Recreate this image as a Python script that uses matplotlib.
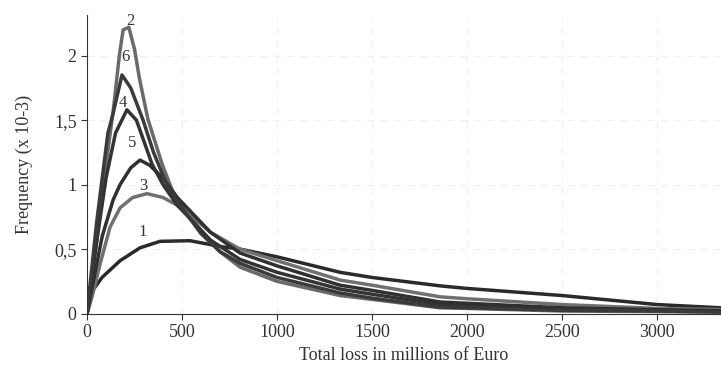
import matplotlib
matplotlib.use('Agg')
import matplotlib.pyplot as plt

# Frequency curves (x 10-3) against total loss (millions of Euro)
x1 = [0, 30, 79, 174, 279, 384, 542, 632, 700, 805, 1000, 1332, 1500, 1858, 2000, 2500, 3000, 3400]
y1 = [0, 0.18, 0.28, 0.41, 0.51, 0.56, 0.565, 0.54, 0.52, 0.50, 0.44, 0.32, 0.28, 0.215, 0.195, 0.14, 0.07, 0.04]

x2 = [0, 50, 100, 140, 170, 190, 220, 250, 275, 320, 395, 450, 520, 600, 700, 805, 1000, 1332, 1500, 1858, 2000, 2500, 3000, 3400]
y2 = [0, 0.55, 1.15, 1.6, 2.0, 2.2, 2.22, 2.05, 1.83, 1.51, 1.16, 0.95, 0.8, 0.64, 0.48, 0.36, 0.25, 0.14, 0.11, 0.045, 0.04, 0.02, 0.015, 0.01]

x3 = [0, 30, 68, 121, 174, 240, 316, 400, 475, 540, 650, 805, 1000, 1332, 1500, 1858, 2000, 2500, 3000, 3400]
y3 = [0, 0.15, 0.38, 0.67, 0.82, 0.9, 0.93, 0.9, 0.84, 0.77, 0.63, 0.50, 0.41, 0.26, 0.22, 0.13, 0.115, 0.07, 0.04, 0.03]

x4 = [0, 50, 100, 150, 210, 260, 342, 400, 475, 540, 650, 805, 1000, 1332, 1500, 1858, 2000, 2500, 3000, 3400]
y4 = [0, 0.55, 1.05, 1.4, 1.58, 1.5, 1.16, 1.0, 0.84, 0.74, 0.57, 0.42, 0.32, 0.19, 0.15, 0.07, 0.06, 0.035, 0.025, 0.015]

x5 = [0, 40, 80, 137, 174, 230, 279, 330, 400, 475, 540, 650, 805, 1000, 1332, 1500, 1858, 2000, 2500, 3000, 3400]
y5 = [0, 0.3, 0.6, 0.88, 1.0, 1.13, 1.19, 1.15, 1.05, 0.9, 0.8, 0.63, 0.47, 0.37, 0.22, 0.18, 0.09, 0.08, 0.045, 0.03, 0.02]

x6 = [0, 50, 110, 137, 184, 230, 295, 350, 420, 500, 600, 700, 805, 1000, 1332, 1500, 1858, 2000, 2500, 3000, 3400]
y6 = [0, 0.7, 1.4, 1.55, 1.85, 1.75, 1.5, 1.25, 1.0, 0.82, 0.62, 0.48, 0.39, 0.28, 0.16, 0.12, 0.05, 0.045, 0.025, 0.02, 0.01]

labels = ['1', '2', '3', '4', '5', '6']
label_x = [295, 226, 295, 190, 237, 200]
label_y = [0.63, 2.27, 0.99, 1.63, 1.32, 1.99]

plt.rcParams['font.family'] = ['Liberation Serif', 'DejaVu Serif']

fig = plt.figure(figsize=(7.21, 3.91), dpi=100)
ax = fig.add_axes([0.1207, 0.198, 0.8793, 0.7636])

curves = [(x1, y1, '#2a2a2a'), (x2, y2, '#6a6a6a'), (x3, y3, '#707070'),
          (x4, y4, '#333333'), (x5, y5, '#303030'), (x6, y6, '#3a3a3a')]
for xs, ys, c in curves:
    ax.plot(xs, ys, color=c, linewidth=2.5, solid_joinstyle='round')

for t, lx, ly in zip(labels, label_x, label_y):
    ax.text(lx, ly, t, fontsize=12, color='#333333', ha='center', va='center')

ax.set_xlim(0, 3337)
ax.set_ylim(0, 2.315)
ax.set_xticks([0, 500, 1000, 1500, 2000, 2500, 3000])
ax.set_yticks([0, 0.5, 1, 1.5, 2])
ax.set_yticklabels(['0', '0,5', '1', '1,5', '2'])
ax.tick_params(labelsize=13, colors='#333333', length=4, direction='out')

ax.grid(True, linestyle=(0, (6, 6)), color='#f0f0f0', linewidth=0.8)
ax.set_axisbelow(True)

ax.spines['top'].set_visible(False)
ax.spines['right'].set_visible(False)
ax.spines['left'].set_color('#333333')
ax.spines['bottom'].set_color('#333333')

ax.set_xlabel('Total loss in millions of Euro', fontsize=13, color='#333333', labelpad=4.5)
ax.set_ylabel('Frequency (x 10-3)', fontsize=13, color='#333333', labelpad=15)

fig.savefig('out.png', dpi=100)
